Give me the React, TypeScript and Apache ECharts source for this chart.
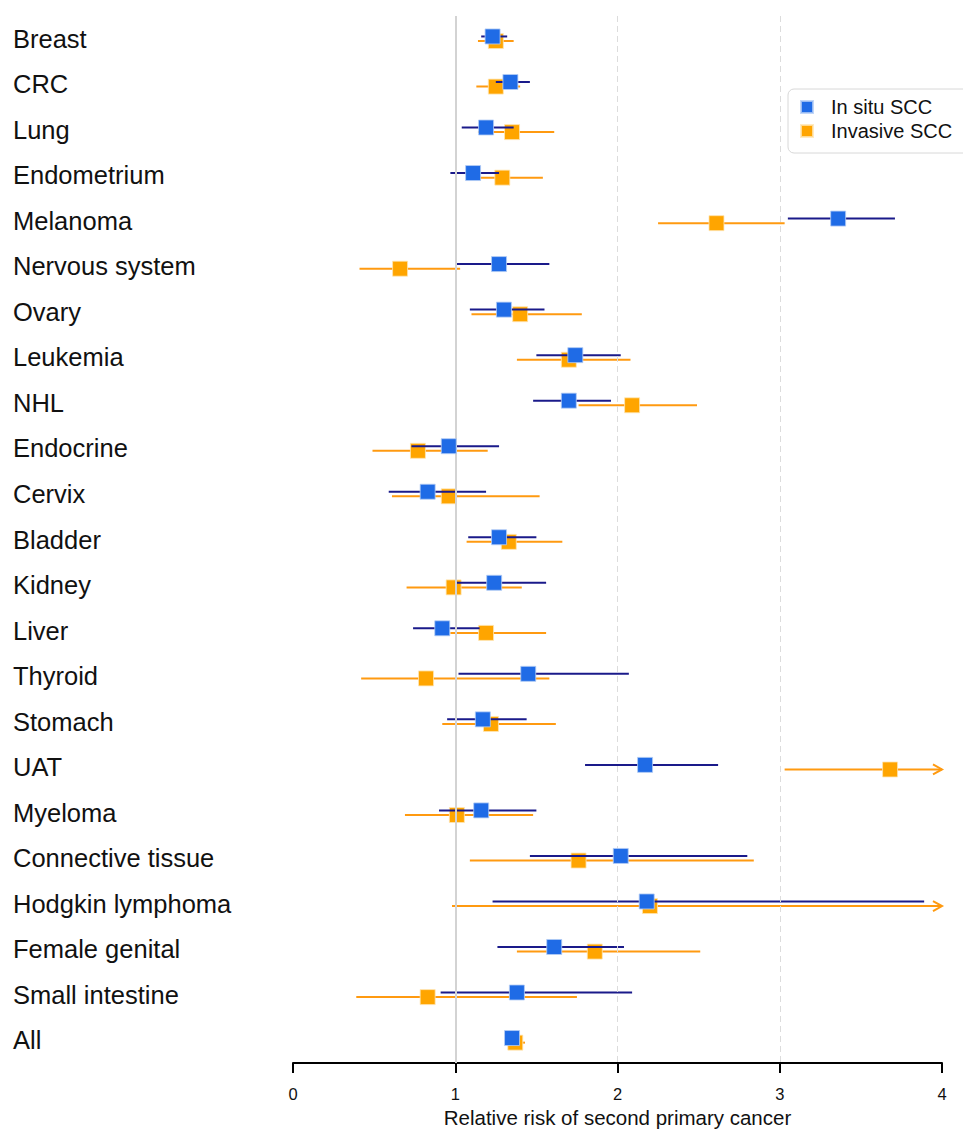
import React, { useEffect, useRef } from "react";
import * as echarts from "echarts";

const categories = [
  "Breast", "CRC", "Lung", "Endometrium", "Melanoma", "Nervous system", "Ovary",
  "Leukemia", "NHL", "Endocrine", "Cervix", "Bladder", "Kidney", "Liver", "Thyroid",
  "Stomach", "UAT", "Myeloma", "Connective tissue", "Hodgkin lymphoma",
  "Female genital", "Small intestine", "All",
];

const inSituRR = [1.23, 1.34, 1.19, 1.11, 3.36, 1.27, 1.30, 1.74, 1.70, 0.96, 0.83, 1.27, 1.24, 0.92, 1.45, 1.17, 2.17, 1.16, 2.02, 2.18, 1.61, 1.38, 1.35];
const inSituLow = [1.16, 1.25, 1.04, 0.97, 3.05, 1.00, 1.09, 1.50, 1.48, 0.73, 0.59, 1.08, 1.00, 0.74, 1.02, 0.95, 1.80, 0.90, 1.46, 1.23, 1.26, 0.91, 1.32];
const inSituHigh = [1.32, 1.46, 1.36, 1.27, 3.71, 1.58, 1.55, 2.02, 1.96, 1.27, 1.19, 1.50, 1.56, 1.15, 2.07, 1.44, 2.62, 1.50, 2.80, 3.89, 2.04, 2.09, 1.38];

const invasiveRR = [1.25, 1.25, 1.35, 1.29, 2.61, 0.66, 1.40, 1.70, 2.09, 0.77, 0.96, 1.33, 0.99, 1.19, 0.82, 1.22, 3.68, 1.01, 1.76, 2.20, 1.86, 0.83, 1.37];
const invasiveLow = [1.14, 1.13, 1.14, 1.12, 2.25, 0.41, 1.10, 1.38, 1.76, 0.49, 0.61, 1.07, 0.70, 0.97, 0.42, 0.92, 3.03, 0.69, 1.09, 0.98, 1.38, 0.39, 1.34];
const invasiveHigh = [1.36, 1.40, 1.61, 1.54, 3.03, 1.03, 1.78, 2.08, 2.49, 1.20, 1.52, 1.66, 1.41, 1.56, 1.58, 1.62, 4.60, 1.48, 2.84, 5.20, 2.51, 1.75, 1.43];

const xTicks = [0, 1, 2, 3, 4];

const FONT = "'Liberation Sans', Arial, sans-serif";
const X_MAX = 4;

function ciRenderer(color: string, offset: number) {
  return (params: any, api: any) => {
    const cat = api.value(0);
    const lo = api.value(1);
    const hi = api.value(2);
    const p1 = api.coord([lo, cat]);
    const p2 = api.coord([Math.min(hi, X_MAX), cat]);
    const y = p1[1] + offset;
    const children: any[] = [
      {
        type: "line",
        shape: { x1: p1[0], y1: y, x2: p2[0], y2: y },
        style: { stroke: color, lineWidth: 2 },
      },
    ];
    if (hi > X_MAX) {
      children.push({
        type: "polyline",
        shape: { points: [[p2[0] - 9, y - 5], [p2[0], y], [p2[0] - 9, y + 5]] },
        style: { stroke: color, lineWidth: 2, fill: "none" },
      });
    }
    return { type: "group", children };
  };
}

export default function App() {
  const ref = useRef<HTMLDivElement>(null);

  useEffect(() => {
    if (!ref.current) return;
    const chart = echarts.init(ref.current, undefined, { renderer: "svg" });

    const inSituCI = categories.map((_, i) => [i, inSituLow[i], inSituHigh[i]]);
    const invasiveCI = categories.map((_, i) => [i, invasiveLow[i], invasiveHigh[i]]);
    const inSituPts = categories.map((c, i) => [inSituRR[i], c]);
    const invasivePts = categories.map((c, i) => [invasiveRR[i], c]);

    chart.setOption({
      animation: false,
      textStyle: { fontFamily: FONT },
      grid: { left: 293, right: 21, top: 16, bottom: 62, containLabel: false },
      legend: {
        data: ["In situ SCC", "Invasive SCC"],
        orient: "vertical",
        left: 788,
        top: 89,
        icon: "rect",
        itemWidth: 12,
        itemHeight: 12,
        itemGap: 4,
        padding: [8, 40, 12, 12],
        backgroundColor: "#ffffff",
        borderColor: "#d8d8d8",
        borderWidth: 1,
        borderRadius: 6,
        textStyle: {
          fontSize: 20,
          color: "#111",
          fontFamily: FONT,
          lineHeight: 20,
          padding: [0, 0, 0, 13],
        },
      },
      xAxis: {
        type: "value",
        min: 0,
        max: 4,
        interval: 1,
        name: "Relative risk of second primary cancer",
        nameLocation: "middle",
        nameGap: 42,
        nameTextStyle: { fontSize: 20.5, color: "#111", fontFamily: FONT },
        axisLine: { show: true, lineStyle: { color: "#000", width: 2 } },
        axisTick: { show: true, length: 10, lineStyle: { color: "#000", width: 2 } },
        axisLabel: {
          fontSize: 16.5,
          color: "#111",
          margin: 22,
          fontFamily: FONT,
          formatter: (v: number) => (xTicks.includes(v) ? String(v) : ""),
        },
        splitLine: { show: false },
      },
      yAxis: {
        type: "category",
        data: categories,
        inverse: true,
        axisLine: { show: false },
        axisTick: { show: false },
        splitLine: { show: false },
        axisLabel: {
          align: "left",
          margin: 280,
          fontSize: 25.5,
          color: "#111",
          fontFamily: FONT,
        },
      },
      series: [
        {
          name: "refLines",
          type: "scatter",
          data: [],
          z: 1,
          silent: true,
          markLine: {
            silent: true,
            symbol: ["none", "none"],
            label: { show: false },
            animation: false,
            data: [
              { xAxis: 1, lineStyle: { color: "#d3d3d3", width: 2, type: "solid" } },
              { xAxis: 2, lineStyle: { color: "#dcdcdc", width: 1, type: [6, 4] } },
              { xAxis: 3, lineStyle: { color: "#dcdcdc", width: 1, type: [6, 4] } },
            ],
          },
        },
        {
          name: "Invasive CI",
          type: "custom",
          renderItem: ciRenderer("#ff9a10", 2.3),
          data: invasiveCI,
          encode: { x: [1, 2], y: 0 },
          z: 2,
          silent: true,
        },
        {
          name: "Invasive SCC",
          type: "scatter",
          data: invasivePts,
          symbol: "rect",
          symbolSize: 15,
          symbolOffset: [0, 2.3],
          itemStyle: { color: "#ffa500", borderColor: "rgba(255,230,180,0.8)", borderWidth: 1, opacity: 1 },
          z: 3,
          silent: true,
        },
        {
          name: "In situ CI",
          type: "custom",
          renderItem: ciRenderer("#1a1a8a", -2.3),
          data: inSituCI,
          encode: { x: [1, 2], y: 0 },
          z: 4,
          silent: true,
        },
        {
          name: "In situ SCC",
          type: "scatter",
          data: inSituPts,
          symbol: "rect",
          symbolSize: 15,
          symbolOffset: [0, -2.3],
          itemStyle: { color: "#1f6be6", borderColor: "rgba(180,205,245,0.8)", borderWidth: 1, opacity: 1 },
          z: 5,
          silent: true,
        },
      ],
    });

    return () => chart.dispose();
  }, []);

  return (
    <div
      ref={ref}
      style={{ position: "absolute", left: 0, top: 0, width: 963, height: 1133 }}
    />
  );
}
